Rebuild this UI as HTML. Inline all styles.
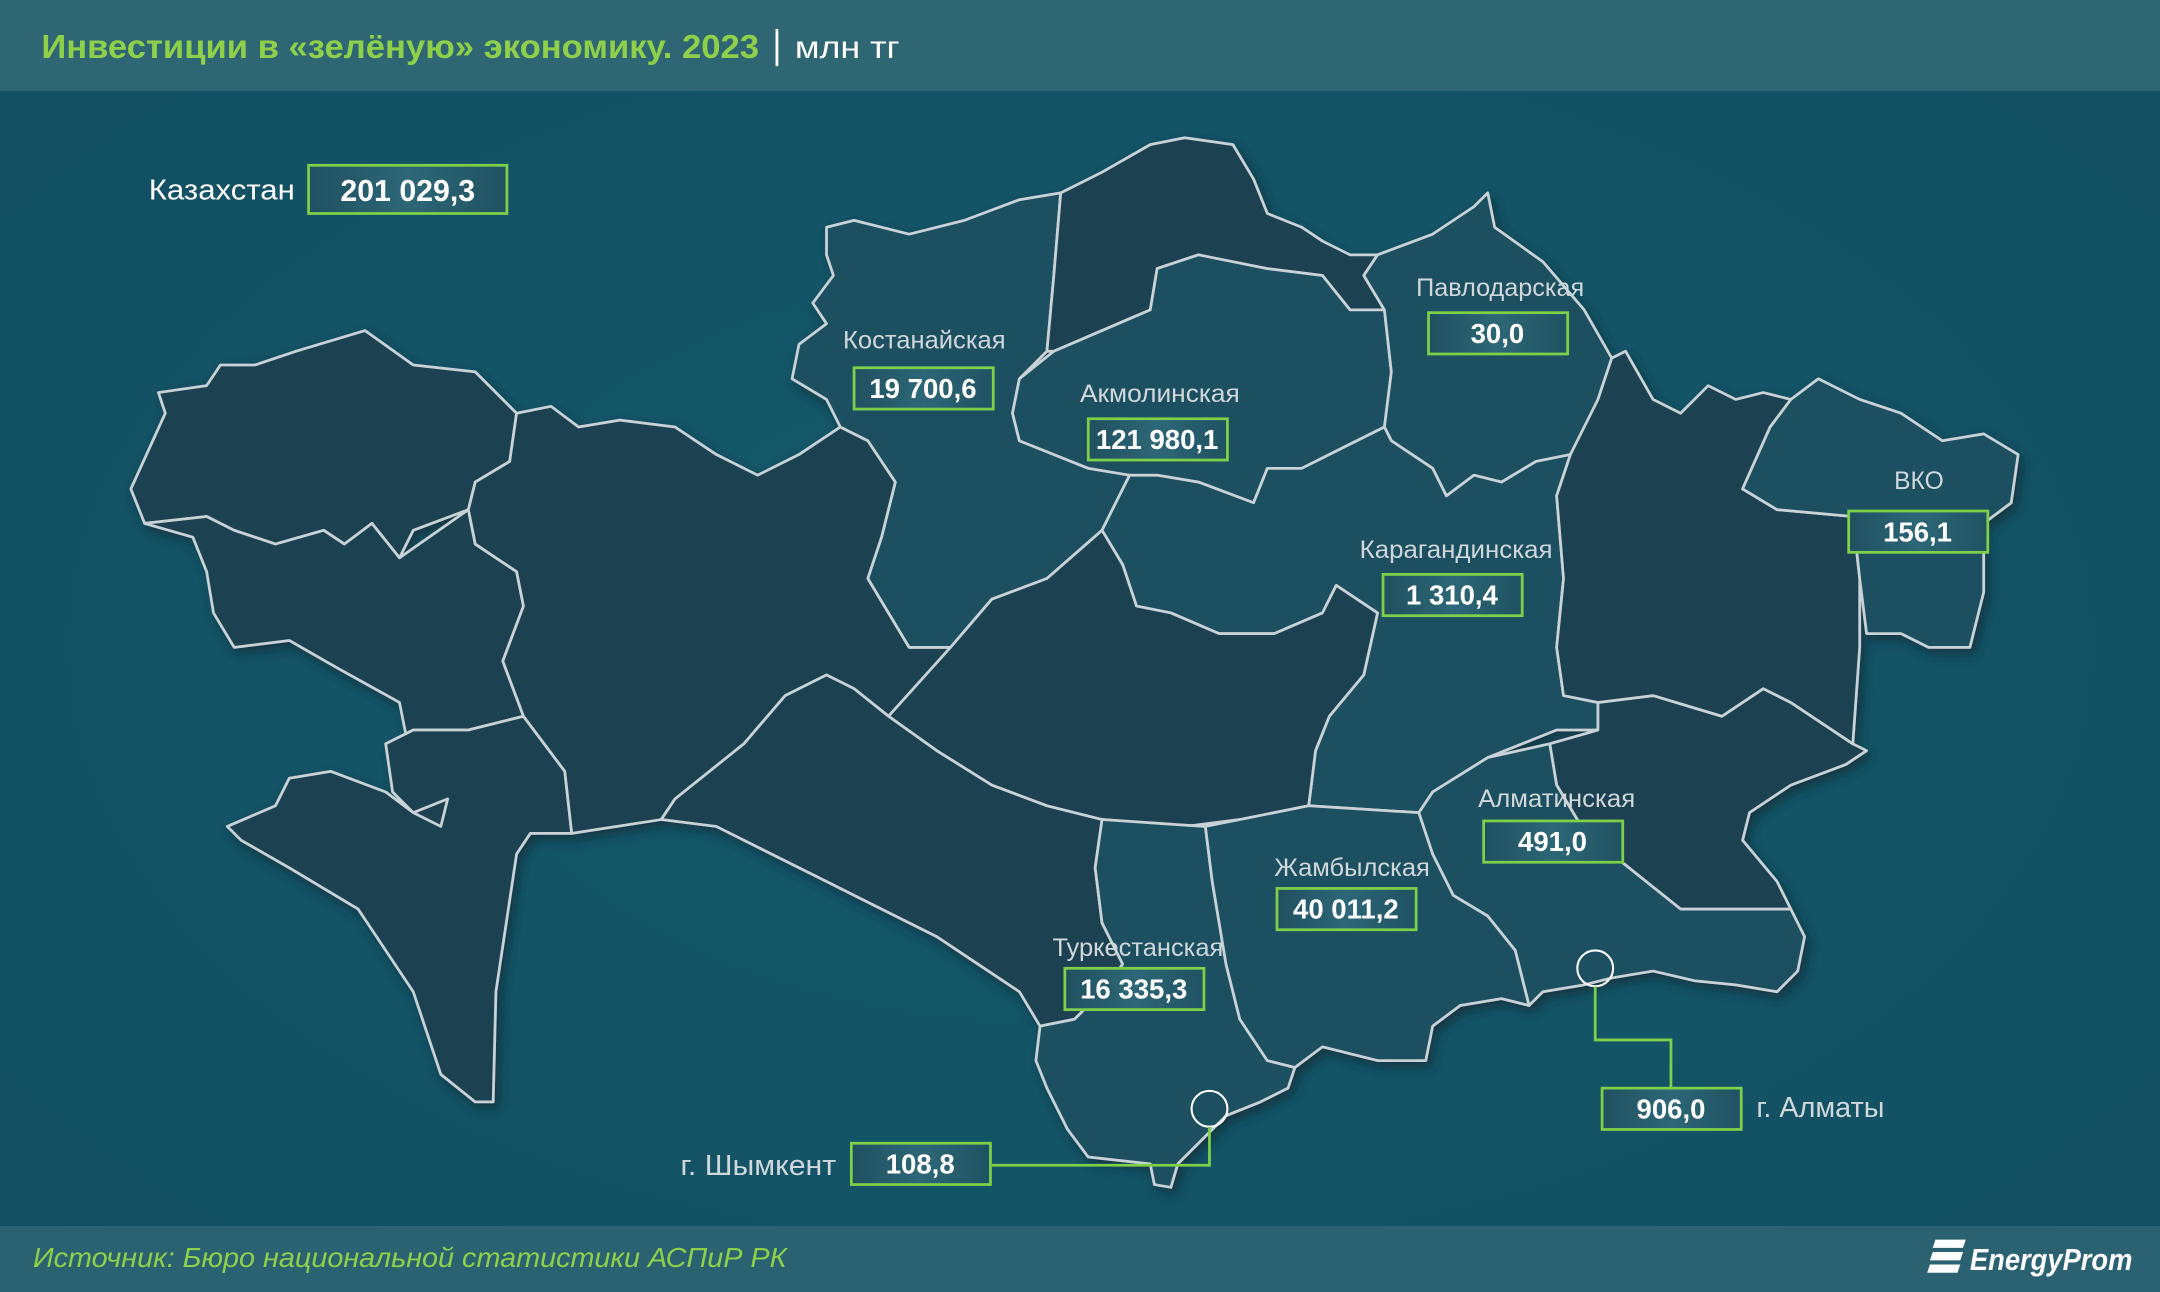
<!DOCTYPE html>
<html><head><meta charset="utf-8"><style>
html,body{margin:0;padding:0;background:#135568;}
svg{display:block}
text{font-family:"Liberation Sans Narrow","Liberation Sans","DejaVu Sans",sans-serif;}
</style></head><body>
<svg width="2160" height="1292" viewBox="0 0 1568 938" preserveAspectRatio="none" xmlns="http://www.w3.org/2000/svg">
<defs>
<radialGradient id="bg" cx="0.5" cy="0.5" r="0.7"><stop offset="0" stop-color="#145a6c"/><stop offset="1" stop-color="#124f61"/></radialGradient>
<linearGradient id="bx" x1="0" y1="0" x2="1" y2="0"><stop offset="0" stop-color="#1f5060"/><stop offset="0.5" stop-color="#2d6777"/><stop offset="1" stop-color="#1f5262"/></linearGradient>
<filter id="sh" x="-5%" y="-5%" width="110%" height="110%"><feDropShadow dx="3" dy="4" stdDeviation="4" flood-color="#0a2a33" flood-opacity="0.7"/></filter>
</defs>
<rect width="1568" height="938" fill="url(#bg)"/>
<rect width="1568" height="66" fill="#2e6674"/>
<rect y="890" width="1568" height="48" fill="#2a6272"/>
<text x="30" y="42" font-size="24" fill="#8fd04b" font-weight="bold" textLength="521" lengthAdjust="spacingAndGlyphs">Инвестиции в «зелёную» экономику. 2023</text>
<rect x="563" y="21" width="2" height="27" fill="#ffffff"/>
<text x="577" y="42" font-size="23" fill="#ffffff" textLength="76" lengthAdjust="spacingAndGlyphs">млн тг</text>
<text x="24" y="920" font-size="20" fill="#8fd04b" font-style="italic" textLength="547" lengthAdjust="spacingAndGlyphs">Источник: Бюро национальной статистики АСПиР РК</text>
<text x="1430" y="922" font-size="22" fill="#ffffff" font-style="italic" font-weight="bold" textLength="118" lengthAdjust="spacingAndGlyphs">EnergyProm</text>
<path d="M1405 900h22l-2 6h-22zM1403 909h22l-2 6h-22zM1401 918h22l-2 6h-22z" fill="#fff"/>
<g stroke="#c9d2d6" stroke-width="2" stroke-linejoin="round" filter="url(#sh)">
<polygon fill="#1b4351" points="95,355 120,300 115,285 150,280 160,265 185,265 215,255 265,240 300,265 345,270 375,300 370,335 345,350 340,370 300,385 290,405 270,380 250,395 235,385 200,395 170,385 150,375 105,380"/>
<polygon fill="#1b4351" points="105,380 150,375 170,385 200,395 235,385 250,395 270,380 290,405 340,370 345,395 375,415 380,440 365,480 380,520 340,530 300,530 280,540 295,535 290,510 245,485 210,465 170,470 155,445 150,415 140,390"/>
<polygon fill="#1b4351" points="165,600 200,585 210,565 240,560 280,575 300,590 325,580 320,600 300,590 285,575 280,540 300,530 340,530 380,520 410,560 415,605 385,605 375,620 360,720 358,800 345,800 320,780 300,720 260,660 210,630 175,610"/>
<polygon fill="#1b4351" points="375,300 400,295 420,310 450,305 490,310 520,330 550,345 580,330 610,310 630,320 650,350 640,390 630,420 660,470 690,470 645,520 620,500 600,490 570,505 540,540 490,580 480,595 415,605 410,560 380,520 365,480 380,440 375,415 345,395 340,370 345,350 370,335"/>
<polygon fill="#1e4f5e" points="600,165 620,160 660,170 700,160 740,145 770,140 765,200 760,255 740,275 735,300 740,320 790,340 820,345 800,385 760,420 720,435 690,470 660,470 630,420 640,390 650,350 630,320 610,310 600,290 575,275 580,250 600,235 590,220 605,200 600,185"/>
<polygon fill="#1b4351" points="770,140 800,125 835,105 860,100 895,105 910,130 920,155 945,165 960,175 980,185 1000,185 990,200 1005,225 980,225 960,200 920,195 890,190 870,185 840,195 835,225 800,240 765,255 760,255 765,200"/>
<polygon fill="#1e4f5e" points="765,255 800,240 835,225 840,195 870,185 920,195 960,200 980,225 1005,225 1010,270 1005,310 975,325 945,340 920,340 910,365 870,350 840,345 820,345 790,340 740,320 735,300 740,275"/>
<polygon fill="#1e4f5e" points="1005,225 990,200 1000,185 1040,170 1070,150 1080,140 1085,165 1120,190 1150,225 1170,260 1160,290 1170,315 1140,330 1115,335 1090,350 1070,345 1050,360 1040,340 1010,320 1005,310 1010,270"/>
<polygon fill="#1e4f5e" points="820,345 840,345 870,350 910,365 920,340 945,340 975,325 1005,310 1010,320 1040,340 1050,360 1070,345 1090,350 1115,335 1140,330 1130,360 1135,420 1130,470 1135,505 1160,510 1160,530 1130,530 1080,550 1040,575 1030,590 950,585 955,545 965,520 990,490 1000,445 970,425 960,445 925,460 885,460 850,445 825,440 815,410 800,385"/>
<polygon fill="#1b4351" points="800,385 815,410 825,440 850,445 885,460 925,460 960,445 970,425 1000,445 990,490 965,520 955,545 950,585 900,595 860,600 800,595 760,585 720,570 680,545 645,520 690,470 720,435 760,420"/>
<polygon fill="#1b4351" points="480,595 490,580 540,540 570,505 600,490 620,500 645,520 680,545 720,570 760,585 800,595 795,630 800,670 815,700 800,720 780,740 755,745 740,720 710,700 680,680 640,660 600,640 560,620 520,600"/>
<polygon fill="#1e4f5e" points="800,595 875,600 880,640 890,700 900,740 920,770 940,775 935,790 915,800 890,810 870,830 855,845 850,862 838,860 835,845 790,840 775,820 760,790 752,770 755,745 780,740 800,720 815,700 800,670 795,630"/>
<polygon fill="#1e4f5e" points="875,600 950,585 1030,590 1040,620 1055,650 1080,665 1100,690 1110,730 1090,725 1060,730 1040,745 1035,770 1000,770 960,760 940,775 920,770 900,740 890,700 880,640"/>
<polygon fill="#1b4351" points="1125,540 1160,530 1160,510 1200,505 1250,520 1280,500 1300,510 1345,540 1355,545 1340,555 1300,570 1270,590 1265,610 1290,640 1300,660 1260,660 1220,660 1195,640 1170,620 1145,595 1130,570"/>
<polygon fill="#1e4f5e" points="1040,575 1080,550 1125,540 1130,570 1145,595 1170,620 1195,640 1220,660 1260,660 1300,660 1310,680 1305,705 1290,720 1260,715 1230,712 1200,705 1170,710 1150,715 1120,720 1110,730 1100,690 1080,665 1055,650 1040,620 1030,590"/>
<polygon fill="#1b4351" points="1140,330 1160,290 1170,260 1180,255 1200,290 1220,300 1240,280 1260,290 1280,285 1300,290 1285,310 1265,355 1290,370 1345,375 1350,420 1350,470 1345,540 1300,510 1280,500 1250,520 1200,505 1160,510 1135,505 1130,470 1135,420 1130,360"/>
<polygon fill="#1e4f5e" points="1265,355 1285,310 1300,290 1320,275 1350,290 1380,300 1410,320 1440,315 1465,330 1460,365 1440,380 1440,430 1430,470 1400,470 1380,460 1355,460 1350,420 1345,375 1290,370"/>
</g>
<g fill="none" stroke="#ffffff" stroke-width="1.5">
<circle cx="878" cy="805" r="13"/><circle cx="1158" cy="703" r="13"/>
</g>
<g fill="none" stroke="#7dd047" stroke-width="2">
<polyline points="720,846 878,846 878,818"/>
<polyline points="1158,716 1158,755 1213,755 1213,790"/>
</g>
<g font-size="18" fill="#d0d8dc" lengthAdjust="spacingAndGlyphs">
<text x="612" y="253" textLength="118" lengthAdjust="spacingAndGlyphs">Костанайская</text>
<text x="784" y="292" textLength="116" lengthAdjust="spacingAndGlyphs">Акмолинская</text>
<text x="1028" y="215" textLength="122" lengthAdjust="spacingAndGlyphs">Павлодарская</text>
<text x="987" y="405" textLength="140" lengthAdjust="spacingAndGlyphs">Карагандинская</text>
<text x="1375" y="355" textLength="36" lengthAdjust="spacingAndGlyphs">ВКО</text>
<text x="1073" y="586" textLength="114" lengthAdjust="spacingAndGlyphs">Алматинская</text>
<text x="925" y="636" textLength="113" lengthAdjust="spacingAndGlyphs">Жамбылская</text>
<text x="764" y="694" textLength="124" lengthAdjust="spacingAndGlyphs">Туркестанская</text>
</g>
<text x="108" y="145" font-size="21" fill="#ffffff" textLength="106" lengthAdjust="spacingAndGlyphs">Казахстан</text>
<text x="494" y="853" font-size="21" fill="#d0d8dc" textLength="113" lengthAdjust="spacingAndGlyphs">г. Шымкент</text>
<text x="1275" y="811" font-size="21" fill="#d0d8dc" textLength="93" lengthAdjust="spacingAndGlyphs">г. Алматы</text>
<g stroke="#7dd047" stroke-width="2" fill="url(#bx)">
<rect x="224" y="120" width="144" height="35"/>
<rect x="620" y="267" width="101" height="30"/>
<rect x="790" y="304" width="101" height="30"/>
<rect x="1037" y="227" width="101" height="30"/>
<rect x="1004" y="417" width="101" height="30"/>
<rect x="1342" y="371" width="101" height="30"/>
<rect x="1077" y="596" width="101" height="30"/>
<rect x="927" y="645" width="101" height="30"/>
<rect x="773" y="703" width="101" height="30"/>
<rect x="618" y="830" width="101" height="30"/>
<rect x="1163" y="790" width="101" height="30"/>
</g>
<g fill="#ffffff" font-weight="bold" text-anchor="middle" font-size="20">
<text x="296" y="146" font-size="22">201 029,3</text>
<text x="670" y="289">19 700,6</text>
<text x="840" y="326">121 980,1</text>
<text x="1087" y="249">30,0</text>
<text x="1054" y="439">1 310,4</text>
<text x="1392" y="393">156,1</text>
<text x="1127" y="618">491,0</text>
<text x="977" y="667">40 011,2</text>
<text x="823" y="725">16 335,3</text>
<text x="668" y="852">108,8</text>
<text x="1213" y="812">906,0</text>
</g>
</svg>
</body></html>
